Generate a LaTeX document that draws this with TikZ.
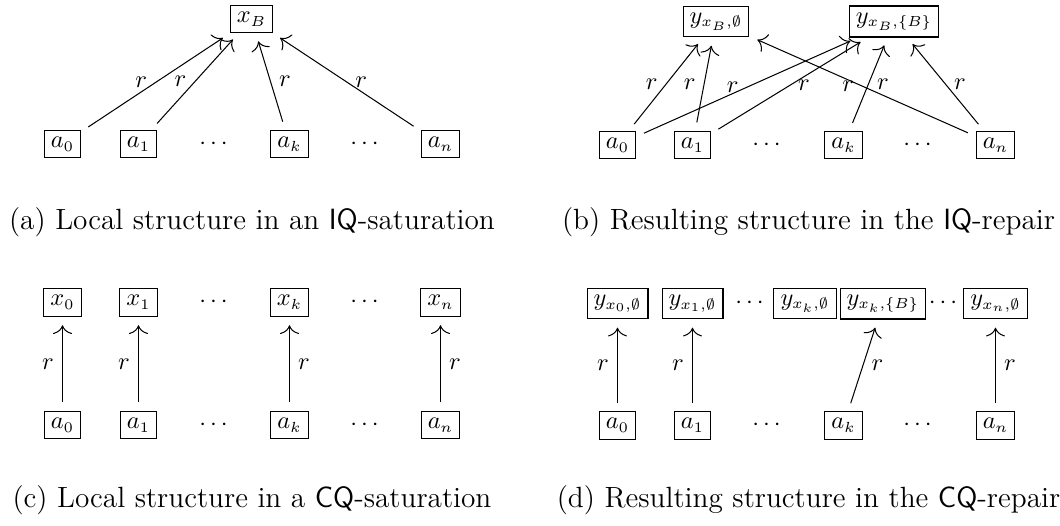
\documentclass[tikz,border=0pt]{standalone}
\usetikzlibrary{arrows.meta}
\DeclareMathSizes{10}{10}{6.5}{5}
\begin{document}
\begin{tikzpicture}[x=0.41pt, y=-0.41pt,
  line width=0.42pt,
  obj/.style={draw, font=\fontsize{10}{12}\selectfont, inner xsep=2.7pt, inner ysep=2.7pt},
  rel/.style={-{To[length=3.6pt,width=7.8pt]}, shorten <=3.5pt, shorten >=3.5pt},
  captext/.style={font=\fontsize{12}{14.5}\selectfont, inner sep=0pt}]
\useasboundingbox (0,0) rectangle (1060,525);

% ---------- (a) local structure in an IQ-saturation ----------
\node[obj] (xB) at (251.5,19) {$x_B$};
\node[obj] (aA0) at (62.5,144) {$a_0$};
\node[obj] (aA1) at (138.5,144) {$a_1$};
\node      (aAd1) at (213.5,144) {$\cdots$};
\node[obj] (aAk) at (289.5,144) {$a_k$};
\node      (aAd2) at (364.5,144) {$\cdots$};
\node[obj] (aAn) at (440.5,144) {$a_n$};
\draw[rel] (aA0) -- node[left] {$r$} (xB);
\draw[rel] (aA1) -- node[left] {$r$} (xB);
\draw[rel] (aAk) -- node[right] {$r$} (xB);
\draw[rel] (aAn) -- node[right] {$r$} (xB);
\node[captext] (capA) at (252,222) {(a) Local structure in an \textsf{IQ}-saturation};

% ---------- (b) resulting structure in the IQ-repair ----------
\node[obj] (yE) at (716,21.5) {$y_{x_B,\emptyset}$};
\node[obj] (yB) at (894,21.5) {$y_{x_B,\{B\}}$};
\node[obj] (bA0) at (617.5,145) {$a_0$};
\node[obj] (bA1) at (692.5,145) {$a_1$};
\node      (bAd1) at (766.5,145) {$\cdots$};
\node[obj] (bAk) at (843.5,145) {$a_k$};
\node      (bAd2) at (917.5,145) {$\cdots$};
\node[obj] (bAn) at (995.5,145) {$a_n$};
\draw[rel] (bA0) -- node[left] {$r$} (yE);
\draw[rel] (bA0) -- node[left] {$r$} (yB);
\draw[rel] (bA1) -- node[left] {$r$} (yE);
\draw[rel] (bA1) -- node[right] {$r$} (yB);
\draw[rel] (bAk) -- node[right] {$r$} (yB);
\draw[rel] (bAn) -- node[left] {$r$} (yE);
\draw[rel] (bAn) -- node[right] {$r$} (yB);
\node[captext] (capB) at (808.5,222) {(b) Resulting structure in the \textsf{IQ}-repair};

% ---------- (c) local structure in a CQ-saturation ----------
\node[obj] (cX0) at (62.5,302.5) {$x_0$};
\node[obj] (cX1) at (138.5,302.5) {$x_1$};
\node      (cXd1) at (213.5,302.5) {$\cdots$};
\node[obj] (cXk) at (289.5,302.5) {$x_k$};
\node      (cXd2) at (364.5,302.5) {$\cdots$};
\node[obj] (cXn) at (440.5,302.5) {$x_n$};
\node[obj] (cA0) at (62.5,425) {$a_0$};
\node[obj] (cA1) at (138.5,425) {$a_1$};
\node      (cAd1) at (213.5,425) {$\cdots$};
\node[obj] (cAk) at (289.5,425) {$a_k$};
\node      (cAd2) at (364.5,425) {$\cdots$};
\node[obj] (cAn) at (440.5,425) {$a_n$};
\draw[rel] (cA0) -- node[left] {$r$} (cX0);
\draw[rel] (cA1) -- node[left] {$r$} (cX1);
\draw[rel] (cAk) -- node[right] {$r$} (cXk);
\draw[rel] (cAn) -- node[right] {$r$} (cXn);
\node[captext] (capC) at (252,500) {(c) Local structure in a \textsf{CQ}-saturation};

% ---------- (d) resulting structure in the CQ-repair ----------
\node[obj] (dY0) at (617.5,303.5) {$y_{x_0,\emptyset}$};
\node[obj] (dY1) at (692.5,303.5) {$y_{x_1,\emptyset}$};
\node      (dYd1) at (749.5,303.5) {$\cdots$};
\node[obj] (dYk) at (805,303.5) {$y_{x_k,\emptyset}$};
\node[obj] (dYkB) at (883,303.5) {$y_{x_k,\{B\}}$};
\node      (dYd2) at (943,303.5) {$\cdots$};
\node[obj] (dYn) at (995.5,303.5) {$y_{x_n,\emptyset}$};
\node[obj] (dA0) at (617.5,425.5) {$a_0$};
\node[obj] (dA1) at (692.5,425.5) {$a_1$};
\node      (dAd1) at (766.5,425.5) {$\cdots$};
\node[obj] (dAk) at (843.5,425.5) {$a_k$};
\node      (dAd2) at (917.5,425.5) {$\cdots$};
\node[obj] (dAn) at (995.5,425.5) {$a_n$};
\draw[rel] (dA0) -- node[left] {$r$} (dY0);
\draw[rel] (dA1) -- node[left] {$r$} (dY1);
\draw[rel] (dAk) -- node[right] {$r$} (dYkB);
\draw[rel] (dAn) -- node[right] {$r$} (dYn);
\node[captext] (capD) at (808.5,500) {(d) Resulting structure in the \textsf{CQ}-repair};
\end{tikzpicture}
\end{document}
